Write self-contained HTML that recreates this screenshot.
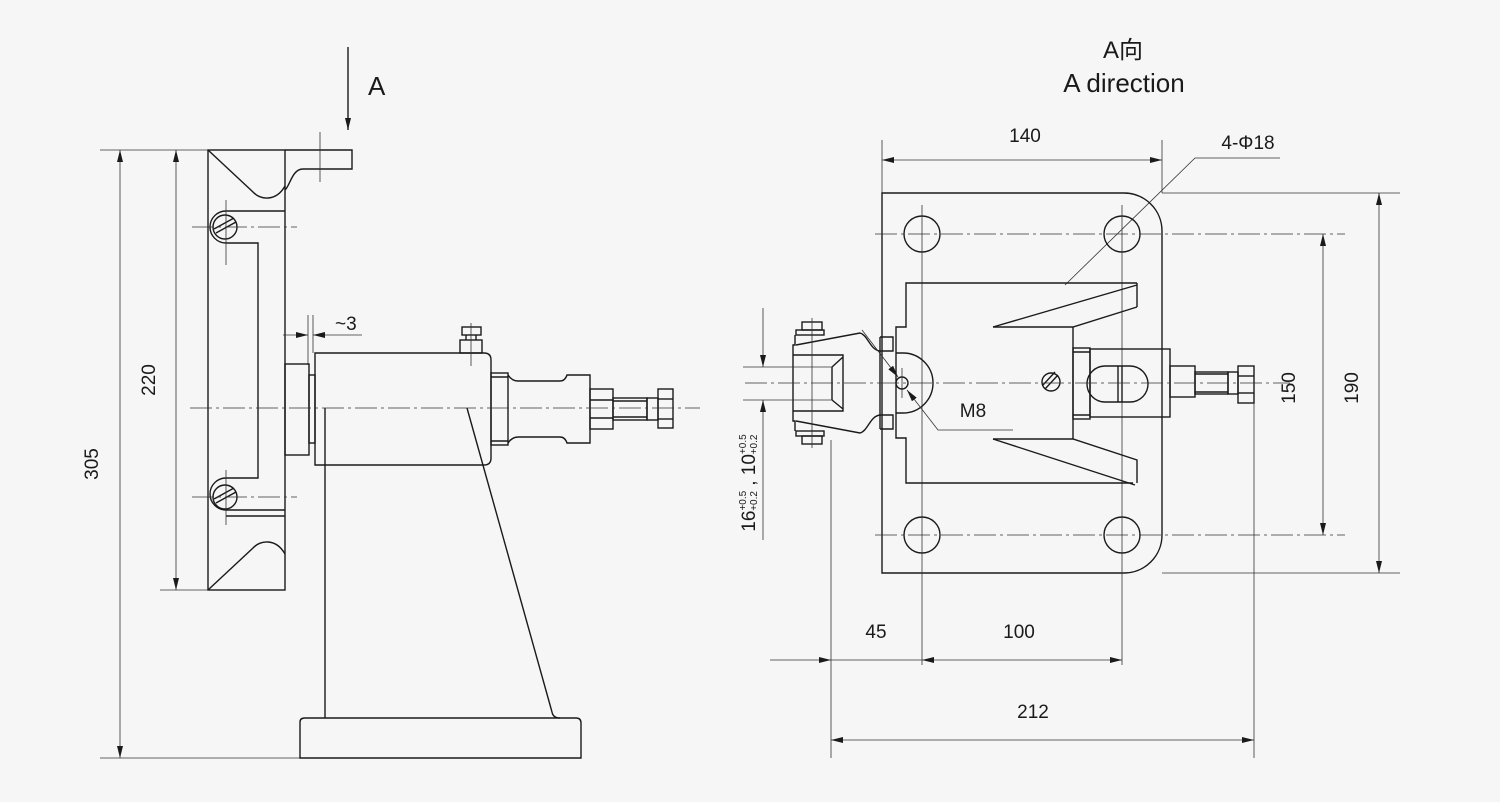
<!DOCTYPE html>
<html><head><meta charset="utf-8"><style>
html,body{margin:0;padding:0;background:#f6f6f6;}
svg{display:block;}
text{font-family:"Liberation Sans","Noto Sans CJK SC",sans-serif;fill:#1a1a1a;}
.k{fill:none;stroke:#1a1a1a;stroke-width:1.4;}
.t{fill:none;stroke:#333;stroke-width:0.8;}
.c{fill:none;stroke:#333;stroke-width:0.8;stroke-dasharray:22 4 3 4;}
</style></head><body>
<svg width="1500" height="802" viewBox="0 0 1500 802" xmlns="http://www.w3.org/2000/svg">
<defs>
<marker id="a" viewBox="0 0 12 6" refX="12" refY="3" markerWidth="12" markerHeight="6" orient="auto-start-reverse" markerUnits="userSpaceOnUse"><path d="M0,0 L12,3 L0,6z" fill="#1a1a1a"/></marker>
</defs>
<rect width="1500" height="802" fill="#f6f6f6"/>

<!-- ===== LEFT VIEW ===== -->
<line class="k" x1="348" y1="47" x2="348" y2="130" marker-end="url(#a)"/>
<text x="368" y="95" font-size="26">A</text>

<line class="t" x1="100" y1="150" x2="208" y2="150"/>
<line class="t" x1="100" y1="758" x2="300" y2="758"/>
<line class="t" x1="120" y1="150" x2="120" y2="758" marker-start="url(#a)" marker-end="url(#a)"/>
<text transform="translate(98,464) rotate(-90)" font-size="19" text-anchor="middle">305</text>
<line class="t" x1="160" y1="590" x2="208" y2="590"/>
<line class="t" x1="176" y1="150" x2="176" y2="590" marker-start="url(#a)" marker-end="url(#a)"/>
<text transform="translate(155,380) rotate(-90)" font-size="19" text-anchor="middle">220</text>

<!-- plate -->
<rect class="k" x="208" y="150" width="77" height="440"/>
<path class="k" d="M285,150 H352 V169 H303 C292,169 290,186 285,190"/>
<path class="k" d="M208,150 L253,192 C260,200 276,202 285,186"/>
<path class="k" d="M208,590 L253,548 C260,540 276,538 285,554"/>
<line class="t" x1="320" y1="132" x2="320" y2="182"/>
<!-- top screw -->
<path class="k" d="M285,211 H226 A16,16 0 0 0 226,243 H258 V478 H226 A16,16 0 0 0 226,510"/>
<circle class="k" cx="225" cy="227" r="12"/>
<line class="k" x1="216" y1="233" x2="236" y2="222"/>
<line class="k" x1="214" y1="229" x2="234" y2="218"/>
<line class="c" x1="192" y1="227" x2="297" y2="227"/>
<line class="t" x1="226" y1="200" x2="226" y2="265"/>
<!-- bottom screw -->
<path class="k" d="M226,510 H285 M285,516 H226"/>
<circle class="k" cx="225" cy="497" r="12"/>
<line class="k" x1="216" y1="503" x2="236" y2="492"/>
<line class="k" x1="214" y1="499" x2="234" y2="488"/>
<line class="c" x1="192" y1="497" x2="297" y2="497"/>
<line class="t" x1="226" y1="470" x2="226" y2="525"/>

<!-- ~3 -->
<line class="t" x1="308" y1="315" x2="308" y2="365"/>
<line class="t" x1="313" y1="315" x2="313" y2="353"/>
<line class="t" x1="283" y1="335" x2="308" y2="335" marker-end="url(#a)"/>
<line class="t" x1="362" y1="335" x2="313" y2="335" marker-end="url(#a)"/>
<text x="335" y="330" font-size="19">~3</text>

<!-- mounting block & body -->
<rect class="k" x="285" y="364" width="24" height="91"/>
<rect class="k" x="309" y="375" width="6" height="68"/>
<path class="k" d="M315,353 H484 Q491,353 491,360 V458 Q491,465 484,465 H315 Z"/>
<line class="k" x1="325" y1="408" x2="325" y2="718"/>
<line class="k" x1="467" y1="408" x2="552" y2="712"/>
<path class="k" d="M552,712 Q553,718 560,718"/>
<path class="k" d="M300,758 V722 Q300,718 305,718 H576 Q581,718 581,723 V758 Z"/>
<rect class="k" x="460" y="340" width="22" height="13"/>
<rect class="k" x="462" y="327" width="19" height="8"/>
<line class="k" x1="466" y1="340" x2="466" y2="335"/><line class="k" x1="476" y1="340" x2="476" y2="335"/>
<line class="t" x1="471" y1="323" x2="471" y2="366"/>
<rect class="k" x="491" y="373" width="17" height="72"/>
<line class="k" x1="491" y1="377" x2="508" y2="377"/><line class="k" x1="491" y1="441" x2="508" y2="441"/>
<path class="k" d="M508,375 Q512,381 518,381 H560 Q565,381 567,375 H590 V443 H567 Q565,437 560,437 H518 Q512,437 508,443"/>
<rect class="k" x="590" y="389" width="23" height="40"/>
<line class="k" x1="590" y1="400" x2="613" y2="400"/><line class="k" x1="590" y1="418" x2="613" y2="418"/>
<rect class="k" x="613" y="398" width="34" height="22"/>
<line class="k" x1="613" y1="401" x2="647" y2="401"/><line class="k" x1="613" y1="417" x2="647" y2="417"/>
<rect class="k" x="647" y="398" width="11" height="22"/>
<rect class="k" x="658" y="389" width="15" height="39"/>
<line class="k" x1="658" y1="399" x2="673" y2="399"/><line class="k" x1="658" y1="419" x2="673" y2="419"/>
<line class="c" x1="190" y1="408" x2="700" y2="408"/>

<!-- ===== RIGHT VIEW ===== -->
<text x="1123" y="58" font-size="24" text-anchor="middle">A向</text>
<text x="1124" y="92" font-size="26" text-anchor="middle">A direction</text>

<line class="t" x1="882" y1="140" x2="882" y2="193"/>
<line class="t" x1="1162" y1="140" x2="1162" y2="193"/>
<line class="t" x1="882" y1="160" x2="1162" y2="160" marker-start="url(#a)" marker-end="url(#a)"/>
<text x="1025" y="142" font-size="19" text-anchor="middle">140</text>
<text x="1248" y="149" font-size="19" text-anchor="middle">4-Φ18</text>
<polyline class="t" points="1065,285 1195,158 1280,158"/>
<path class="k" d="M882,193 H1124 A38,38 0 0 1 1162,231 V535 A38,38 0 0 1 1124,573 H882 Z"/>
<circle class="k" cx="922" cy="234" r="18"/><circle class="k" cx="1122" cy="234" r="18"/>
<circle class="k" cx="922" cy="535" r="18"/><circle class="k" cx="1122" cy="535" r="18"/>
<line class="c" x1="875" y1="234" x2="1345" y2="234"/>
<line class="c" x1="875" y1="535" x2="1345" y2="535"/>
<line class="t" x1="922" y1="205" x2="922" y2="665"/>
<line class="t" x1="1122" y1="205" x2="1122" y2="665"/>
<line class="t" x1="1323" y1="234" x2="1323" y2="535" marker-start="url(#a)" marker-end="url(#a)"/>
<text transform="translate(1295,388) rotate(-90)" font-size="19" text-anchor="middle">150</text>
<line class="t" x1="1162" y1="193" x2="1400" y2="193"/>
<line class="t" x1="1162" y1="573" x2="1400" y2="573"/>
<line class="t" x1="1379" y1="193" x2="1379" y2="573" marker-start="url(#a)" marker-end="url(#a)"/>
<text transform="translate(1358,388) rotate(-90)" font-size="19" text-anchor="middle">190</text>

<path class="k" d="M1137,283 H906 V327 H896 V438 H906 V483 H1133"/>
<line class="k" x1="1137" y1="283" x2="1137" y2="307"/>
<polyline class="k" points="993,327 1137,285"/>
<polyline class="k" points="993,327 1073,327 1137,307"/>
<polyline class="k" points="993,439 1073,439 1137,460 1137,483"/>
<polyline class="k" points="993,439 1135,485"/>
<line class="k" x1="1073" y1="327" x2="1073" y2="439"/>
<rect class="k" x="1073" y="348" width="17" height="71"/>
<line class="k" x1="1073" y1="352" x2="1090" y2="352"/><line class="k" x1="1073" y1="415" x2="1090" y2="415"/>
<rect class="k" x="1090" y="349" width="80" height="68"/>
<path class="k" d="M1105,366 H1130 A18,18 0 0 1 1130,402 H1105 A18,18 0 0 1 1105,366 Z"/>
<line class="k" x1="1118" y1="366" x2="1118" y2="402"/><line class="k" x1="1122" y1="366" x2="1122" y2="402"/>
<rect class="k" x="1170" y="366" width="25" height="31"/>
<rect class="k" x="1195" y="372" width="33" height="22"/>
<line class="k" x1="1195" y1="374" x2="1228" y2="374"/><line class="k" x1="1195" y1="392" x2="1228" y2="392"/>
<rect class="k" x="1228" y="372" width="10" height="22"/>
<rect class="k" x="1238" y="366" width="16" height="37"/>
<line class="k" x1="1238" y1="376" x2="1254" y2="376"/><line class="k" x1="1238" y1="393" x2="1254" y2="393"/>
<line class="t" x1="1254" y1="403" x2="1254" y2="758"/>
<circle class="k" cx="1051" cy="382" r="9"/>
<line class="k" x1="1045" y1="389" x2="1058" y2="375"/><line class="k" x1="1043" y1="385" x2="1055" y2="372"/>

<path class="k" d="M896,353 H903 A30,30 0 0 1 903,413 H896"/>
<circle class="k" cx="902" cy="383" r="6"/>
<line class="t" x1="902" y1="368" x2="902" y2="398"/>
<rect class="k" x="802" y="322" width="20" height="8"/>
<rect class="k" x="796" y="330" width="28" height="5"/>
<rect class="k" x="802" y="436" width="20" height="8"/>
<rect class="k" x="796" y="431" width="28" height="5"/>
<path class="k" d="M795,335 V345 H793 V421 H795 V431 M796,345 L860,333 C868,335 870,350 880,351 H893 V337 H880 M796,421 L860,433 C868,431 870,416 880,415 H893 V429 H880"/>
<line class="k" x1="880" y1="337" x2="880" y2="429"/>
<path class="k" d="M793,355 H843 V411 H793 M832,367 V400 M832,367 L843,357 M832,400 L843,409"/>
<line class="t" x1="812" y1="318" x2="812" y2="448"/>
<line class="t" x1="862" y1="330" x2="898" y2="377" marker-end="url(#a)"/>
<polyline class="t" points="1013,430 938,430 907,390" marker-end="url(#a)"/>
<text x="973" y="417" font-size="19" text-anchor="middle">M8</text>
<line class="c" x1="745" y1="383" x2="1290" y2="383"/>

<line class="t" x1="743" y1="367" x2="833" y2="367"/>
<line class="t" x1="743" y1="400" x2="833" y2="400"/>
<line class="t" x1="763" y1="308" x2="763" y2="367" marker-end="url(#a)"/>
<line class="t" x1="763" y1="540" x2="763" y2="400" marker-end="url(#a)"/>
<text transform="translate(755,483) rotate(-90)" font-size="19" text-anchor="middle">16<tspan font-size="10" dy="-9">+0.5</tspan><tspan font-size="10" dx="-20" dy="11">+0.2</tspan><tspan dy="-2"> , 10</tspan><tspan font-size="10" dy="-9">+0.5</tspan><tspan font-size="10" dx="-20" dy="11">+0.2</tspan></text>

<line class="t" x1="831" y1="440" x2="831" y2="758"/>
<line class="t" x1="770" y1="660" x2="831" y2="660" marker-end="url(#a)"/>
<line class="t" x1="831" y1="660" x2="922" y2="660"/>
<line class="t" x1="922" y1="660" x2="1122" y2="660" marker-start="url(#a)" marker-end="url(#a)"/>
<text x="876" y="638" font-size="19" text-anchor="middle">45</text>
<text x="1019" y="638" font-size="19" text-anchor="middle">100</text>
<line class="t" x1="831" y1="740" x2="1254" y2="740" marker-start="url(#a)" marker-end="url(#a)"/>
<text x="1033" y="718" font-size="19" text-anchor="middle">212</text>
</svg>
</body></html>
